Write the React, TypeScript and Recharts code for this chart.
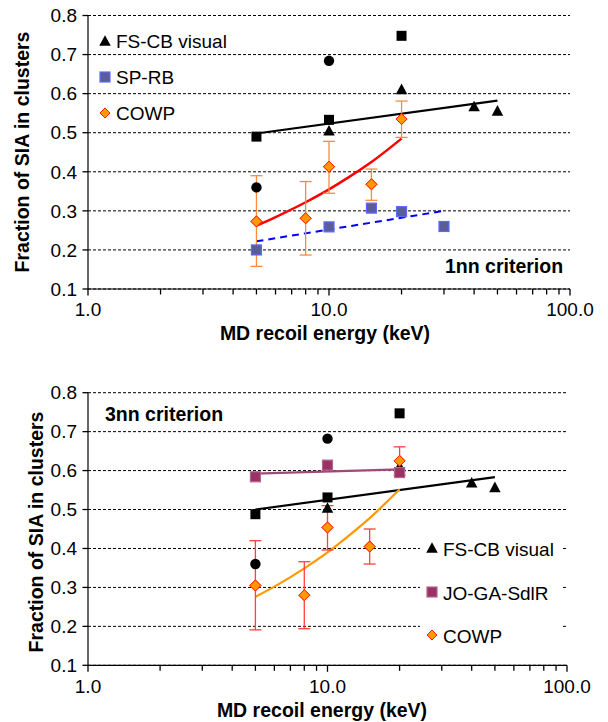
import React from 'react';
import {
  ComposedChart, XAxis, YAxis, CartesianGrid, Line, Scatter, ErrorBar, Customized,
} from 'recharts';

const FONT = "'Liberation Sans', Arial, Helvetica, sans-serif";

// ---- shared axis ticks ----
const xTicks = [1, 2, 3, 4, 5, 6, 7, 8, 9, 10, 20, 30, 40, 50, 60, 70, 80, 90, 100];
const xMajor = [1, 10, 100];
const yTicks = [0.1, 0.2, 0.3, 0.4, 0.5, 0.6, 0.7, 0.8];

// ---- top panel (1nn criterion) ----
const sqX1 = [5, 10, 20];
const sqY1 = [0.49, 0.533, 0.748];
const circX1 = [5, 10];
const circY1 = [0.36, 0.684];
const triX1 = [10, 20, 40, 50];
const triY1 = [0.505, 0.611, 0.567, 0.556];
const spX = [5, 10, 15, 20, 30];
const spY = [0.2, 0.259, 0.307, 0.298, 0.26];
const cowpX1 = [5, 8, 10, 15, 20];
const cowpY1 = [0.273, 0.281, 0.413, 0.368, 0.535];
const cowpLo1 = [0.158, 0.187, 0.345, 0.327, 0.488];
const cowpHi1 = [0.39, 0.375, 0.478, 0.407, 0.581];
const fsTrendX1 = [5, 50];
const fsTrendY1 = [0.498, 0.582];
const spTrendX = [5, 30];
const spTrendY = [0.222, 0.3];
const cowpTrendX1 = [5, 6, 8, 10, 12, 15, 20];
const cowpTrendY1 = [0.262, 0.284, 0.322, 0.355, 0.385, 0.425, 0.485];

// ---- bottom panel (3nn criterion) ----
const sqX2 = [5, 10, 20];
const sqY2 = [0.488, 0.531, 0.747];
const circX2 = [5, 10];
const circY2 = [0.36, 0.682];
const triX2 = [10, 20, 40, 50];
const triY2 = [0.504, 0.611, 0.569, 0.557];
const joX = [5, 10, 20];
const joY = [0.584, 0.614, 0.595];
const cowpX2 = [5, 8, 10, 15, 20];
const cowpY2 = [0.305, 0.28, 0.454, 0.405, 0.625];
const cowpLo2 = [0.191, 0.194, 0.396, 0.36, 0.588];
const cowpHi2 = [0.42, 0.366, 0.51, 0.45, 0.661];
const fsTrendX2 = [5, 50];
const fsTrendY2 = [0.5, 0.583];
const joTrendX = [5, 20];
const joTrendY = [0.592, 0.603];
const cowpTrendX2 = [5, 6, 8, 10, 12, 15, 20];
const cowpTrendY2 = [0.276, 0.302, 0.349, 0.39, 0.428, 0.478, 0.552];

const pts = (xs: number[], ys: number[]) => xs.map((x, i) => ({ x, y: ys[i] }));
const errPts = (xs: number[], ys: number[], lo: number[], hi: number[]) =>
  xs.map((x, i) => ({ x, y: ys[i], err: [ys[i] - lo[i], hi[i] - ys[i]] }));

// tick-mark positions placed through the chart scales
const xTickMarks = xTicks.map((x) => ({ x, y: 0.1, major: xMajor.includes(x) }));
const yTickMarks = yTicks.map((y) => ({ x: 1, y }));

// ---- marker shapes ----
const Square = ({ cx, cy, fill = '#000', stroke = 'none', s = 10 }: any) => (
  <rect x={cx - s / 2} y={cy - s / 2} width={s} height={s} fill={fill} stroke={stroke} strokeWidth={1.2} />
);
const Circle = ({ cx, cy }: any) => <circle cx={cx} cy={cy} r={5.2} fill="#000" />;
const Triangle = ({ cx, cy, s = 11.5 }: any) => (
  <polygon points={`${cx},${cy - s * 0.5} ${cx - s / 2},${cy + s * 0.42} ${cx + s / 2},${cy + s * 0.42}`} fill="#000" />
);
const Diamond = ({ cx, cy, r = 5.5 }: any) => (
  <polygon points={`${cx},${cy - r} ${cx + r},${cy} ${cx},${cy + r} ${cx - r},${cy}`} fill="#ff9900" stroke="#ff2200" strokeWidth={1} />
);
const SpSquare = (p: any) => <Square {...p} fill="#5c5c99" stroke="#5a6cff" s={10} />;
const JoSquare = (p: any) => <Square {...p} fill="#993366" stroke="#b4668a" s={10} />;

const XTickMark = (p: any) => (
  <line x1={p.cx} x2={p.cx} y1={p.cy} y2={p.cy + (p.payload && p.payload.major ? 6.5 : 5.5)} stroke="#000" strokeWidth={1.3} />
);
const YTickMark = (p: any) => <line x1={p.cx - 5.5} x2={p.cx} y1={p.cy} y2={p.cy} stroke="#000" strokeWidth={1.3} />;

const yFmt = (v: number) => v.toFixed(1);
const xFmt = (v: number) => (xMajor.includes(v) ? v.toFixed(1) : '');

const tickStyle = { fill: '#000', fontSize: 19, fontFamily: FONT };

function Panel({
  top, height, marginTop, marginBottom, marginRight, children, xTitleY, xTitleX, yTitleX, yTitleY, extra,
}: any) {
  return (
    <div style={{ position: 'absolute', left: 0, top }}>
      <ComposedChart
        width={608}
        height={height}
        margin={{ top: marginTop, right: marginRight, left: 28, bottom: marginBottom }}
      >
        <CartesianGrid horizontal vertical={false} stroke="#000" strokeDasharray="3 2" strokeWidth={1} />
        <XAxis
          dataKey="x"
          type="number"
          scale="log"
          domain={[1, 100]}
          ticks={xMajor}
          interval={0}
          tickFormatter={xFmt}
          tick={tickStyle}
          tickSize={5}
          tickMargin={9}
          height={30}
          axisLine={{ stroke: '#000', strokeWidth: 1.2 }}
          tickLine={false}
        />
        <YAxis
          dataKey="y"
          type="number"
          domain={[0.1, 0.8]}
          ticks={yTicks}
          interval={0}
          tickFormatter={yFmt}
          tick={tickStyle}
          tickSize={5}
          tickMargin={6}
          width={60}
          axisLine={{ stroke: '#000', strokeWidth: 1.2 }}
          tickLine={false}
        />
        {children}
        <Scatter data={xTickMarks} isAnimationActive={false} shape={XTickMark} />
        <Scatter data={yTickMarks} isAnimationActive={false} shape={YTickMark} />
        <Customized
          component={() => (
            <g fontFamily={FONT}>
              <text x={xTitleX} y={xTitleY} textAnchor="middle" fontSize={19.5} fontWeight="bold" fill="#000">
                MD recoil energy (keV)
              </text>
              <text
                x={yTitleX}
                y={yTitleY}
                textAnchor="middle"
                fontSize={19.5}
                fontWeight="bold"
                fill="#000"
                transform={`rotate(-90, ${yTitleX}, ${yTitleY})`}
              >
                Fraction of SIA in clusters
              </text>
              {extra}
            </g>
          )}
        />
      </ComposedChart>
    </div>
  );
}

export default function App() {
  const topExtra = (
    <g>
      <Triangle cx={105} cy={41} />
      <text x={116} y={48} fontSize={19} fill="#000">FS-CB visual</text>
      <SpSquare cx={105} cy={77} />
      <text x={116} y={84} fontSize={19} fill="#000">SP-RB</text>
      <Diamond cx={105} cy={113} r={5} />
      <text x={116} y={120} fontSize={19} fill="#000">COWP</text>
      <text x={445} y={273} fontSize={19.5} fontWeight="bold" fill="#000">1nn criterion</text>
    </g>
  );
  const bottomExtra = (
    <g>
      <text x={105} y={61} fontSize={19.5} fontWeight="bold" fill="#000">3nn criterion</text>
      <rect x={420} y={170} width={143} height={132} fill="#fff" />
      <Triangle cx={432} cy={188} />
      <text x={443} y={196} fontSize={19} fill="#000">FS-CB visual</text>
      <JoSquare cx={432} cy={232} />
      <text x={443} y={240} fontSize={19} fill="#000">JO-GA-SdlR</text>
      <Diamond cx={432} cy={275} r={5} />
      <text x={443} y={283} fontSize={19} fill="#000">COWP</text>
    </g>
  );

  return (
    <div style={{ position: 'absolute', left: 0, top: 0, width: 608, height: 722, background: '#fff' }}>
      <Panel
        top={0}
        height={360}
        marginTop={15.5}
        marginBottom={41}
        marginRight={38}
        xTitleX={325}
        xTitleY={340}
        yTitleX={28.5}
        yTitleY={152}
        extra={topExtra}
      >
        <Line data={pts(fsTrendX1, fsTrendY1)} dataKey="y" type="linear" stroke="#000" strokeWidth={2.2} dot={false} isAnimationActive={false} />
        <Line data={pts(spTrendX, spTrendY)} dataKey="y" type="linear" stroke="#0000ff" strokeWidth={2} strokeDasharray="7 5" dot={false} isAnimationActive={false} />
        <Line data={pts(cowpTrendX1, cowpTrendY1)} dataKey="y" type="monotone" stroke="#ff0000" strokeWidth={2.5} dot={false} isAnimationActive={false} />
        <Scatter data={errPts(cowpX1, cowpY1, cowpLo1, cowpHi1)} shape={(p: any) => <Diamond cx={p.cx} cy={p.cy} />} isAnimationActive={false}>
          <ErrorBar dataKey="err" direction="y" width={6} stroke="#ff8a3d" strokeWidth={1.3} />
        </Scatter>
        <Scatter data={pts(sqX1, sqY1)} shape={(p: any) => <Square cx={p.cx} cy={p.cy} />} isAnimationActive={false} />
        <Scatter data={pts(circX1, circY1)} shape={(p: any) => <Circle cx={p.cx} cy={p.cy} />} isAnimationActive={false} />
        <Scatter data={pts(triX1, triY1)} shape={(p: any) => <Triangle cx={p.cx} cy={p.cy} />} isAnimationActive={false} />
        <Scatter data={pts(spX, spY)} shape={(p: any) => <SpSquare cx={p.cx} cy={p.cy} />} isAnimationActive={false} />
        <Scatter data={pts(cowpX1, cowpY1)} shape={(p: any) => <Diamond cx={p.cx} cy={p.cy} />} isAnimationActive={false} />
      </Panel>
      <Panel
        top={360}
        height={362}
        marginTop={32.7}
        marginBottom={26.7}
        marginRight={41}
        xTitleX={322}
        xTitleY={357}
        yTitleX={42.5}
        yTitleY={172}
        extra={bottomExtra}
      >
        <Line data={pts(fsTrendX2, fsTrendY2)} dataKey="y" type="linear" stroke="#000" strokeWidth={2.2} dot={false} isAnimationActive={false} />
        <Line data={pts(joTrendX, joTrendY)} dataKey="y" type="linear" stroke="#a04a78" strokeWidth={2.2} dot={false} isAnimationActive={false} />
        <Line data={pts(cowpTrendX2, cowpTrendY2)} dataKey="y" type="monotone" stroke="#ff9900" strokeWidth={2.2} dot={false} isAnimationActive={false} />
        <Scatter data={errPts(cowpX2, cowpY2, cowpLo2, cowpHi2)} shape={(p: any) => <Diamond cx={p.cx} cy={p.cy} />} isAnimationActive={false}>
          <ErrorBar dataKey="err" direction="y" width={6} stroke="#ff4040" strokeWidth={1.3} />
        </Scatter>
        <Scatter data={pts(sqX2, sqY2)} shape={(p: any) => <Square cx={p.cx} cy={p.cy} />} isAnimationActive={false} />
        <Scatter data={pts(circX2, circY2)} shape={(p: any) => <Circle cx={p.cx} cy={p.cy} />} isAnimationActive={false} />
        <Scatter data={pts(triX2, triY2)} shape={(p: any) => <Triangle cx={p.cx} cy={p.cy} />} isAnimationActive={false} />
        <Scatter data={pts(joX, joY)} shape={(p: any) => <JoSquare cx={p.cx} cy={p.cy} />} isAnimationActive={false} />
        <Scatter data={pts(cowpX2, cowpY2)} shape={(p: any) => <Diamond cx={p.cx} cy={p.cy} />} isAnimationActive={false} />
      </Panel>
    </div>
  );
}
